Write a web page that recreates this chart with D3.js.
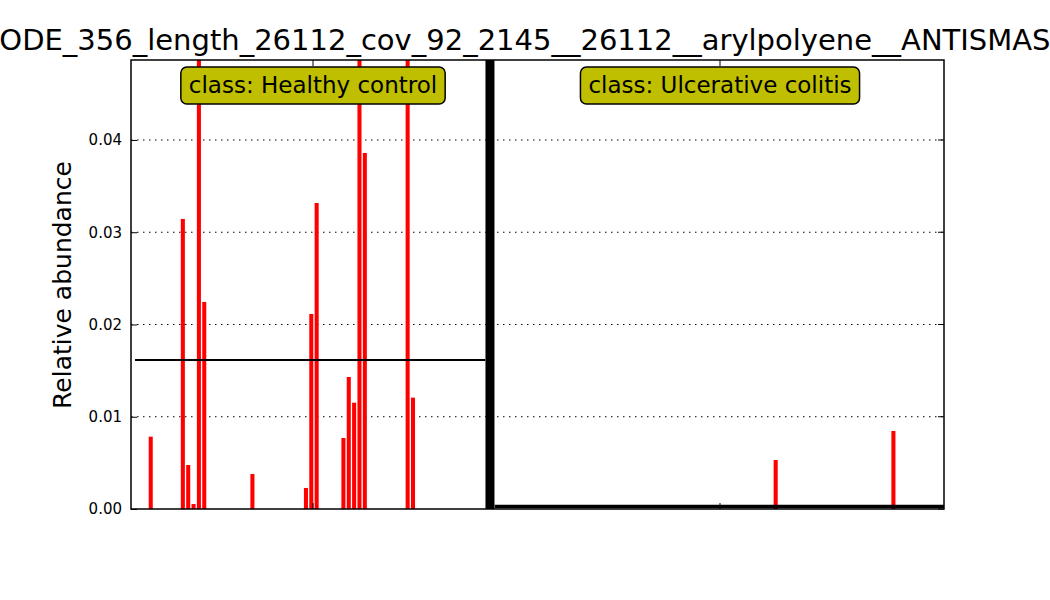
<!DOCTYPE html>
<html><head><meta charset="utf-8">
<script src="https://cdn.jsdelivr.net/npm/d3@7"></script>
<style>body{margin:0;background:#fff}svg{font-family:"DejaVu Sans",sans-serif}</style>
</head><body><svg id="c" width="1050" height="600"></svg>
<script>
const title = 'NODE_356_length_26112_cov_92_2145__26112__arylpolyene__ANTISMASH';
const classes = ['Healthy control', 'Ulcerative colitis'];
const hcCount = 66, ucCount = 84;
// non-zero samples: [index within class, value]
const hcBars = [[3,0.00784],[9,0.03144],[10,0.00477],[11,0.00054],[12,0.30],[13,0.02244],[22,0.00379],
  [32,0.00228],[33,0.02114],[34,0.03317],[39,0.0077],[40,0.01431],[41,0.01152],[42,0.35],[43,0.03859],
  [51,0.20],[52,0.01207]];
const ucBars = [[52,0.00531],[74,0.00846]];
const yTicks = [0, 0.01, 0.02, 0.03, 0.04];

const svg = d3.select('#c');
const L = 131, R = 944, T = 60, B = 509;
const gap = 1.76;
const x = d3.scaleLinear().domain([-0.5, hcCount + gap + ucCount - 0.55]).range([L + 1, R]);
const y = d3.scaleLinear().domain([0, 0.04867]).range([B, T]);
const bw = x(1) - x(0) - 1.3;

svg.append('text').attr('x', 525).attr('y', 50).attr('text-anchor', 'middle')
  .attr('font-size', 29).text(title);

const g = svg.append('g');
g.append('clipPath').attr('id', 'clip').append('rect').attr('x', L).attr('y', T).attr('width', R - L).attr('height', B - T);

// grid
g.selectAll('.grid').data(yTicks.slice(1)).enter().append('line')
  .attr('x1', L).attr('x2', R).attr('y1', d => y(d)).attr('y2', d => y(d))
  .attr('stroke', '#000').attr('stroke-dasharray', '1.5,4.5');

const plot = g.append('g').attr('clip-path', 'url(#clip)');
const all = hcBars.map(d => ({i: d[0], v: d[1]}))
  .concat(ucBars.map(d => ({i: hcCount + gap + d[0], v: d[1]})));
plot.selectAll('rect.bar').data(all).enter().append('rect')
  .attr('x', d => x(d.i) - bw / 2).attr('width', bw)
  .attr('y', d => y(d.v)).attr('height', d => B - y(d.v)).attr('fill', '#ff0000');

// class means
const ucMean = d3.sum(ucBars, d => d[1]) / ucCount;
plot.append('line').attr('x1', x(-0.5) + 3).attr('x2', x(hcCount - 0.5))
  .attr('y1', y(0.01615)).attr('y2', y(0.01615)).attr('stroke', '#000').attr('stroke-width', 2);
plot.append('line').attr('x1', x(hcCount + gap - 0.5)).attr('x2', x(hcCount + gap + ucCount - 0.5))
  .attr('y1', y(ucMean) - 1).attr('y2', y(ucMean) - 1).attr('stroke', '#000').attr('stroke-width', 3.5);

// separator
const sepX = (x(hcCount - 0.5) + x(hcCount + gap - 0.5)) / 2;
g.append('line').attr('x1', sepX).attr('x2', sepX).attr('y1', T).attr('y2', B)
  .attr('stroke', '#000').attr('stroke-width', 9);

// frame
g.append('rect').attr('x', L).attr('y', T).attr('width', R - L).attr('height', B - T)
  .attr('fill', 'none').attr('stroke', '#000').attr('stroke-width', 1.5);

// y axis with inward ticks
const yAxis = d3.axisLeft(y).tickValues(yTicks).tickFormat(d3.format('.2f')).tickSize(-6).tickPadding(9);
const ya = g.append('g').attr('transform', `translate(${L},0)`).call(yAxis);
ya.select('.domain').remove();
ya.selectAll('text').attr('font-size', 15).attr('font-family', 'DejaVu Sans');
g.selectAll('.rt').data(yTicks).enter().append('line')
  .attr('x1', R).attr('x2', R - 6).attr('y1', d => y(d)).attr('y2', d => y(d)).attr('stroke', '#000');

// x ticks at class centers
const centers = [313, 720];
centers.forEach(cx => {
  g.append('line').attr('x1', cx).attr('x2', cx).attr('y1', B).attr('y2', B - 6).attr('stroke', '#000');
  g.append('line').attr('x1', cx).attr('x2', cx).attr('y1', T).attr('y2', T + 6).attr('stroke', '#000');
});

svg.append('text').attr('transform', 'translate(71,285) rotate(-90)').attr('text-anchor', 'middle')
  .attr('font-size', 25).text('Relative abundance');

// class labels
classes.forEach((c, k) => {
  const lg = svg.append('g');
  const box = lg.append('rect');
  const t = lg.append('text').attr('x', centers[k]).attr('y', 93).attr('text-anchor', 'middle')
    .attr('font-size', 23).text('class: ' + c);
  const bb = t.node().getBBox();
  box.attr('x', bb.x - 8).attr('y', 67).attr('width', bb.width + 16)
    .attr('height', 37).attr('rx', 6).attr('fill', '#bfbf00').attr('stroke', '#000').attr('stroke-width', 1.5);
});
</script></body></html>
